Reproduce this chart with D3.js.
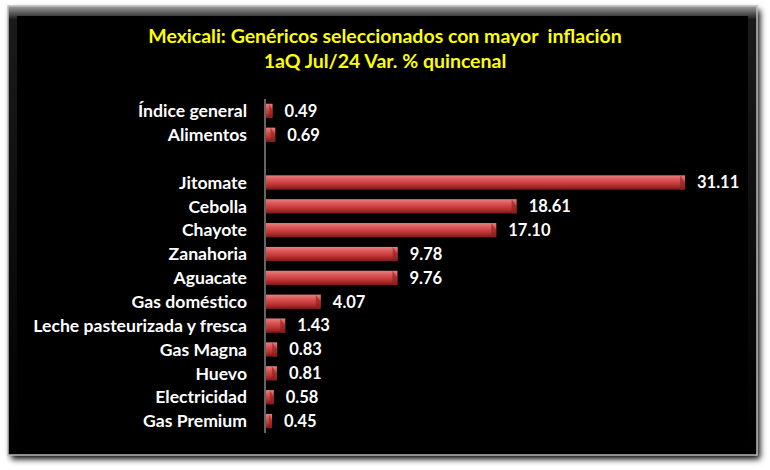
<!DOCTYPE html>
<html><head><meta charset="utf-8">
<script src="https://cdn.jsdelivr.net/npm/d3@7/dist/d3.min.js"></script>
<style>body{margin:0;background:#fff;}svg{display:block;}</style>
</head><body>
<svg id="c" width="770" height="470"></svg>
<script>
const categories = ["Índice general","Alimentos","","Jitomate","Cebolla","Chayote","Zanahoria","Aguacate","Gas doméstico","Leche pasteurizada y fresca","Gas Magna","Huevo","Electricidad","Gas Premium"];
const values = [0.49,0.69,null,31.11,18.61,17.10,9.78,9.76,4.07,1.43,0.83,0.81,0.58,0.45];
const titleLines = ["Mexicali: Genéricos seleccionados con mayor  inflación","1aQ Jul/24 Var. % quincenal"];

const svg = d3.select("#c");
const defs = svg.append("defs");
const sh = defs.append("filter").attr("id","sh").attr("x","-5%").attr("y","-5%").attr("width","110%").attr("height","110%");
sh.append("feGaussianBlur").attr("in","SourceAlpha").attr("stdDeviation",3);
sh.append("feOffset").attr("dx",3).attr("dy",4).attr("result","b");
const fm = sh.append("feMerge"); fm.append("feMergeNode").attr("in","b"); fm.append("feMergeNode").attr("in","SourceGraphic");

const bg = defs.append("linearGradient").attr("id","bar").attr("x1",0).attr("y1",0).attr("x2",0).attr("y2",1);
bg.append("stop").attr("offset","0%").attr("stop-color","#e88080");
bg.append("stop").attr("offset","35%").attr("stop-color","#d85050");
bg.append("stop").attr("offset","70%").attr("stop-color","#b83030");
bg.append("stop").attr("offset","100%").attr("stop-color","#7a1818");

const pg = defs.append("linearGradient").attr("id","bev").attr("x1",0).attr("y1",0).attr("x2",0).attr("y2",1);
pg.append("stop").attr("offset","0%").attr("stop-color","#a0a0a0");
pg.append("stop").attr("offset","3%").attr("stop-color","#1a1a1a");
pg.append("stop").attr("offset","100%").attr("stop-color","#000");

svg.append("rect").attr("x",8).attr("y",6).attr("width",749).attr("height",449)
  .attr("fill","#000").attr("filter","url(#sh)");
svg.append("rect").attr("x",8).attr("y",6).attr("width",749).attr("height",449)
  .attr("fill","url(#bev)").attr("stroke","#bdbdbd").attr("stroke-width",1.5);
svg.append("rect").attr("x",17).attr("y",16).attr("width",731).attr("height",430).attr("fill","#000");

const font = "Lato, 'Open Sans', sans-serif";
svg.selectAll("text.title").data(titleLines).join("text").attr("class","title")
  .attr("x",385).attr("y",(d,i)=>43+i*25).attr("text-anchor","middle")
  .attr("fill","#ffff00").attr("font-family",font).attr("font-weight","bold").attr("font-size",19.5)
  .style("white-space","pre").text(d=>d);

const x0 = 265;
const x = d3.scaleLinear().domain([0,31.11]).range([x0,684]);
const y = d3.scaleBand().domain(d3.range(categories.length)).range([99,433]).paddingInner(0.4).paddingOuter(0.2);

const rows = categories.map((c,i)=>({c,v:values[i],i})).filter(d=>d.v!==null);

svg.append("line").attr("x1",x0).attr("x2",x0).attr("y1",99).attr("y2",433).attr("stroke","#c8c8c8").attr("stroke-width",1);

svg.selectAll("rect.bar").data(rows).join("rect").attr("class","bar")
  .attr("x",x0+1).attr("y",d=>y(d.i)).attr("width",d=>x(d.v)-x0).attr("height",y.bandwidth())
  .attr("fill","url(#bar)");
svg.selectAll("path.cap").data(rows).join("path").attr("class","cap")
  .attr("d",d=>{const xe=x(d.v)+1, yt=y(d.i), h=y.bandwidth(); const w=Math.min(5,(x(d.v)-x0)/2);
    return `M${xe-w},${yt}L${xe},${yt+h*0.5}L${xe},${yt+h}L${xe-w},${yt+h}Z`;})
  .attr("fill","#8a2020").attr("opacity",0.6);

svg.selectAll("text.cat").data(rows).join("text").attr("class","cat")
  .attr("x",247).attr("y",d=>y(d.i)+y.bandwidth()/2).attr("dy","0.35em").attr("text-anchor","end")
  .attr("fill","#fff").attr("font-family",font).attr("font-weight","bold").attr("font-size",17.6)
  .text(d=>d.c);
svg.selectAll("text.val").data(rows).join("text").attr("class","val")
  .attr("x",d=>x(d.v)+13).attr("y",d=>y(d.i)+y.bandwidth()/2).attr("dy","0.35em")
  .attr("fill","#fff").attr("font-family",font).attr("font-weight","bold").attr("font-size",16.5)
  .text(d=>d.v.toFixed(2));
</script>
</body></html>
